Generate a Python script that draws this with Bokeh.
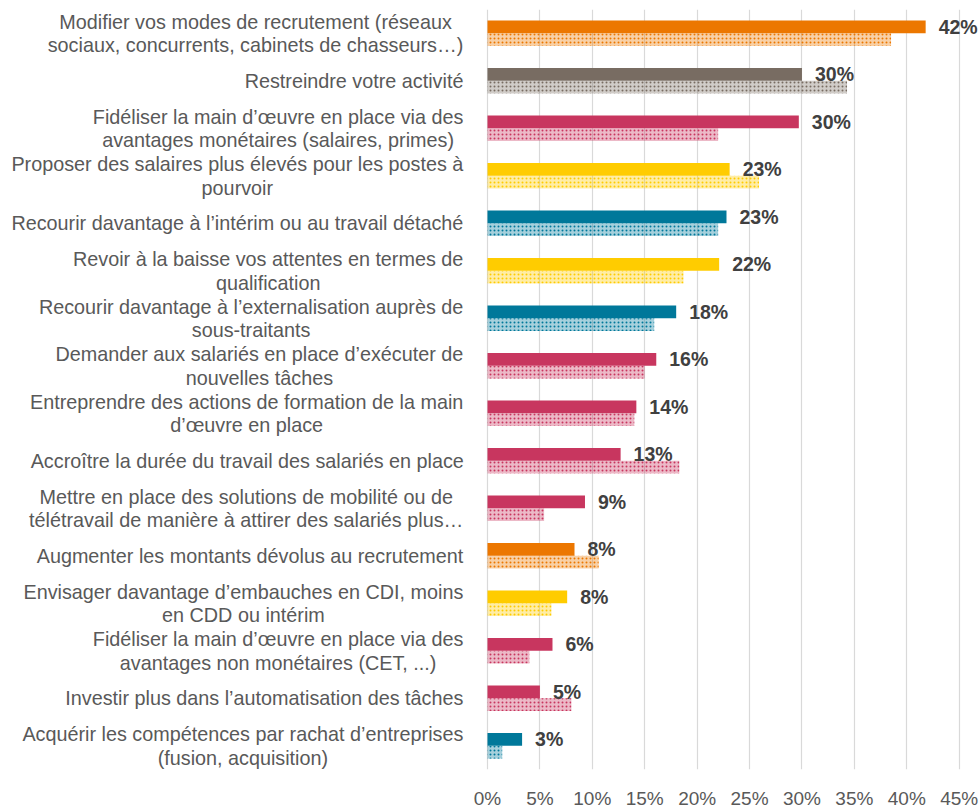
import unicodedata
from bokeh.plotting import figure
from bokeh.models import Range1d, FixedTicker, ColumnDataSource
from bokeh.core.properties import value
from bokeh.embed import file_html
from bokeh.resources import INLINE

# ---------------- data ----------------
categories = [
    "Modifier vos modes de recrutement (réseaux\nsociaux, concurrents, cabinets de chasseurs…)",
    "Restreindre votre activité",
    "Fidéliser la main d’œuvre en place via des\navantages monétaires (salaires, primes)",
    "Proposer des salaires plus élevés pour les postes à\npourvoir",
    "Recourir davantage à l’intérim ou au travail détaché",
    "Revoir à la baisse vos attentes en termes de\nqualification",
    "Recourir davantage à l’externalisation auprès de\nsous-traitants",
    "Demander aux salariés en place d’exécuter de\nnouvelles tâches",
    "Entreprendre des actions de formation de la main\nd’œuvre en place",
    "Accroître la durée du travail des salariés en place",
    "Mettre en place des solutions de mobilité ou de\ntélétravail de manière à attirer des salariés plus…",
    "Augmenter les montants dévolus au recrutement",
    "Envisager davantage d’embauches en CDI, moins\nen CDD ou intérim",
    "Fidéliser la main d’œuvre en place via des\navantages non monétaires (CET, ...)",
    "Investir plus dans l’automatisation des tâches",
    "Acquérir les compétences par rachat d’entreprises\n(fusion, acquisition)",
]
current = [41.8, 30.0, 29.7, 23.1, 22.8, 22.1, 18.0, 16.1, 14.2, 12.7, 9.3, 8.3, 7.6, 6.2, 5.0, 3.3]
previous = [38.5, 34.3, 22.0, 25.9, 22.0, 18.7, 15.9, 15.0, 14.0, 18.3, 5.4, 10.6, 6.1, 4.0, 8.0, 1.4]
ORANGE, BROWN, PINK, YELLOW, TEAL = "#EC7700", "#786C62", "#C8365F", "#FFCC00", "#00789A"
colors = [ORANGE, BROWN, PINK, YELLOW, TEAL, YELLOW, TEAL, PINK, PINK, PINK, PINK,
          ORANGE, YELLOW, PINK, PINK, TEAL]
tick_values = [0, 5, 10, 15, 20, 25, 30, 35, 40, 45]
tick_labels = ["0%", "5%", "10%", "15%", "20%", "25%", "30%", "35%", "40%", "45%"]

# ---------------- helpers ----------------
ARIAL = {' ': 278, '(': 333, ')': 333, ',': 278, '-': 333, '.': 278, '’': 222, "'": 191, '…': 1000,
         'a': 556, 'b': 556, 'c': 500, 'd': 556, 'e': 556, 'f': 278, 'g': 556, 'h': 556, 'i': 222,
         'j': 222, 'k': 500, 'l': 222, 'm': 833, 'n': 556, 'o': 556, 'p': 556, 'q': 556, 'r': 333,
         's': 500, 't': 278, 'u': 556, 'v': 500, 'w': 722, 'x': 500, 'y': 500, 'z': 500, 'œ': 944,
         'A': 667, 'B': 667, 'C': 722, 'D': 722, 'E': 667, 'F': 611, 'I': 278, 'M': 833, 'P': 667,
         'R': 722, 'T': 611}


def text_width(s, size):
    w = 0
    for ch in s:
        base = unicodedata.normalize("NFD", ch)[0] if ch not in ARIAL else ch
        w += ARIAL.get(base, 556)
    return w * size / 1000.0


LABEL_SIZE = 19.8
LINE_H = 23.5
GAP = 24  # px between label block right edge and 0%

n = len(categories)
ys = list(range(n))
bar_h = 0.27

W, H = 979, 811
TOP, BOTTOM = 9, 33
x0_px, x45_px = 487, 958.7
frame_right = W
scale = (x45_px - x0_px) / 45.0
x_start = -x0_px / scale
x_end = 45 + (frame_right - x45_px) / scale

p = figure(width=W, height=H, x_range=Range1d(x_start, x_end), y_range=Range1d(n - 0.5, -0.5),
           output_backend="svg", toolbar_location=None, y_axis_location=None,
           min_border_left=0, min_border_right=0, min_border_top=TOP, min_border_bottom=BOTTOM)
p.outline_line_color = None
p.background_fill_color = "white"
p.border_fill_color = "white"

p.xaxis.ticker = FixedTicker(ticks=tick_values)
p.xaxis.major_label_overrides = {t: l for t, l in zip(tick_values, tick_labels)}
p.xaxis.axis_line_color = None
p.xaxis.major_tick_line_color = None
p.xaxis.minor_tick_line_color = None
p.xaxis.major_label_text_font = "Liberation Sans"
p.xaxis.major_label_text_font_size = "19px"
p.xaxis.major_label_text_color = "#595959"
p.xaxis.major_label_standoff = 12
p.xgrid.ticker = FixedTicker(ticks=tick_values)
p.xgrid.grid_line_color = "#D9D9D9"
p.xgrid.grid_line_width = 1.2
p.ygrid.visible = False

src = ColumnDataSource(dict(
    y_cur=[y - bar_h / 2 for y in ys], y_prev=[y + bar_h / 2 for y in ys],
    cur=current, prev=previous, color=colors,
    lab=[f"{round(v)}%" for v in current]))

p.hbar(y="y_prev", left=0, right="prev", height=bar_h, source=src,
       fill_color="color", fill_alpha=0.35, hatch_pattern="dot", hatch_color="color",
       hatch_scale=4, hatch_weight=1.8, line_color=None)
p.hbar(y="y_cur", left=0, right="cur", height=bar_h, source=src,
       fill_color="color", line_color=None)
p.text(x="cur", y="y_cur", text="lab", source=src, x_offset=13, y_offset=0,
       text_align="left", text_baseline="middle", text_font=value("Liberation Sans"),
       text_font_style="bold", text_font_size="19.5px", text_color="#404040")

# category labels: block right-aligned, lines centred within block
lx, ly, lt, lxo, lyo = [], [], [], [], []
for i, cat in enumerate(categories):
    lines = cat.split("\n")
    widths = [text_width(l, LABEL_SIZE) for l in lines]
    maxw = max(widths)
    for k, line in enumerate(lines):
        lx.append(0)
        ly.append(i)
        lt.append(line)
        lxo.append(-GAP - maxw / 2)
        lyo.append((k - (len(lines) - 1) / 2) * LINE_H)
p.text(x="x", y="y", text="t", x_offset="xo", y_offset="yo",
       source=ColumnDataSource(dict(x=lx, y=ly, t=lt, xo=lxo, yo=lyo)),
       text_align="center", text_baseline="middle", text_font=value("Liberation Sans"),
       text_font_size=f"{LABEL_SIZE}px", text_color="#595959")

open("out.html", "w").write(file_html(p, INLINE))
